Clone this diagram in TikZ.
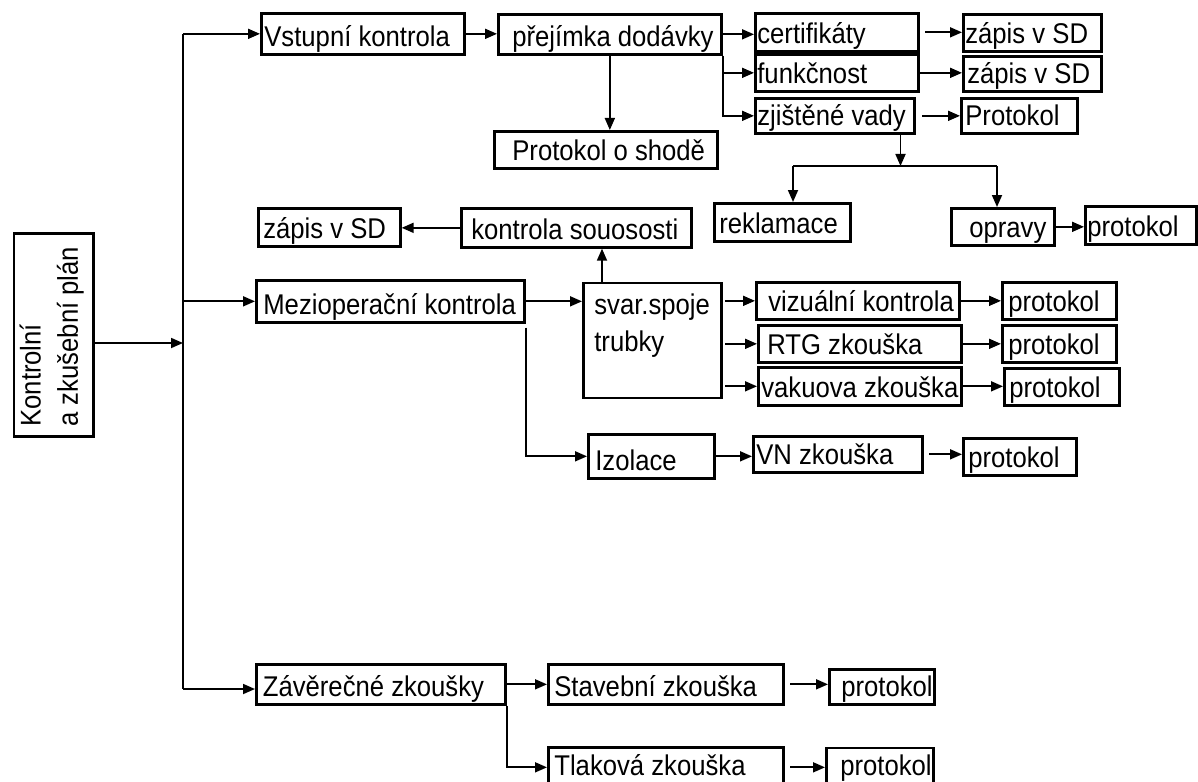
\documentclass[tikz,border=0pt]{standalone}
\usepackage{fontspec}
\setmainfont{Liberation Sans}[FakeStretch=0.9]
\usetikzlibrary{arrows.meta}
\usetikzlibrary{calc}
\newdimen\upx \upx=0.75pt
\tikzset{
  blok/.style={draw, line width=2pt, inner sep=0pt, anchor=north west, text depth=7.5\upx, text height=#1\upx},
  spoj/.style={line width=1.3pt},
  sipka/.style={spoj, -{Triangle[length=9pt,width=7.5pt]}},
}
\begin{document}
\begin{tikzpicture}[x=0.75pt,y=0.75pt,yscale=-1,xscale=1, font=\fontsize{21.4}{28}\selectfont]
\useasboundingbox (0,0) rectangle (1198,781);

% Plan
\node[blok=26.6, text depth=52.7\upx, rotate=90] (plan) at (12.7,438) {\parbox[t]{203\upx}{\hspace*{10\upx}Kontrolní\\\hspace*{10\upx}a zkušební plán}};

% Vstupni kontrola
\node[blok=33.5] (vstup) at (260,12) {\makebox[203\upx][l]{\hspace*{3\upx}Vstupní kontrola}};
\node[blok=32.5] (prejimka) at (497,13) {\makebox[223\upx][l]{\hspace*{14\upx}přejímka dodávky}};
\node[blok=29.5] (shoda) at (493,130) {\makebox[223\upx][l]{\hspace*{18\upx}Protokol o shodě}};
\node[blok=30.5] (cert) at (754,12) {\makebox[163\upx][l]{\hspace*{2\upx}certifikáty}};
\node[blok=29.5] (zapisA) at (962,13) {\makebox[138\upx][l]{\hspace*{2\upx}zápis v SD}};
\node[blok=29.5] (funk) at (754,53) {\makebox[163\upx][l]{\hspace*{2\upx}funkčnost}};
\node[blok=27.5] (zapisB) at (962,55) {\makebox[138\upx][l]{\hspace*{4\upx}zápis v SD}};
\node[blok=27.5] (vady) at (754,97) {\makebox[159\upx][l]{\hspace*{2\upx}zjištěné vady}};
\node[blok=27.5] (protA) at (960,97) {\makebox[116\upx][l]{\hspace*{4\upx}Protokol}};
\node[blok=30.5] (reklam) at (713,202) {\makebox[136\upx][l]{\hspace*{5\upx}reklamace}};
\node[blok=29.5] (opravy) at (950,207) {\makebox[103\upx][l]{\hspace*{18\upx}opravy}};
\node[blok=30.5] (protB) at (1084,205) {\makebox[111\upx][l]{\hspace*{2\upx}protokol}};

% Mezioperacni kontrola
\node[blok=30.5] (zapisC) at (257,207) {\makebox[142\upx][l]{\hspace*{5\upx}zápis v SD}};
\node[blok=31.5] (souos) at (460,207) {\makebox[230\upx][l]{\hspace*{10\upx}kontrola souososti}};
\node[blok=34.5] (mezi) at (255,279) {\makebox[268\upx][l]{\hspace*{7\upx}Mezioperační kontrola}};
\node[blok=31.3, text depth=83.7\upx] (svar) at (582,281.7) {\parbox[t]{138\upx}{\hspace*{11\upx}svar.spoje\\\hspace*{11\upx}trubky}};
\node[blok=29.5] (viz) at (755,281) {\makebox[203\upx][l]{\hspace*{12\upx}vizuální kontrola}};
\node[blok=29.5] (protC) at (1001,281) {\makebox[114\upx][l]{\hspace*{6\upx}protokol}};
\node[blok=29.5] (rtg) at (757,324) {\makebox[203\upx][l]{\hspace*{9\upx}RTG zkouška}};
\node[blok=29.5] (protD) at (1001,324) {\makebox[114\upx][l]{\hspace*{6\upx}protokol}};
\node[blok=30.5] (vak) at (757,366) {\makebox[203\upx][l]{\hspace*{3\upx}vakuova zkouška}};
\node[blok=29.5] (protE) at (1003,367) {\makebox[115\upx][l]{\hspace*{5\upx}protokol}};
\node[blok=36.5] (izol) at (587,433) {\makebox[126\upx][l]{\hspace*{7\upx}Izolace}};
\node[blok=28.5] (vn) at (752,435) {\makebox[169\upx][l]{\hspace*{3\upx}VN zkouška}};
\node[blok=29.5] (protF) at (962,437) {\makebox[113\upx][l]{\hspace*{5\upx}protokol}};

% Zaverecne zkousky
\node[blok=32.5] (zaver) at (255,663) {\makebox[249\upx][l]{\hspace*{6.5\upx}Závěrečné zkoušky}};
\node[blok=32.5] (stav) at (547,663) {\makebox[235\upx][l]{\hspace*{6\upx}Stavební zkouška}};
\node[blok=27.5] (protG) at (828,668) {\makebox[105\upx][l]{\hspace*{12\upx}protokol}};
\node[blok=28, text depth=12\upx] (tlak) at (547,746) {\makebox[235\upx][l]{\hspace*{6\upx}Tlaková zkouška}};
\node[blok=27.3, text depth=12\upx] (protH) at (825,746.7) {\makebox[107\upx][l]{\hspace*{14\upx}protokol}};

% kmen
\coordinate (kmen) at (183,343);
\coordinate (kmenD) at (183,689);
\draw[sipka] (plan.south |- kmen) -- (kmen);
\draw[spoj] (kmen |- vstup.west) -- (kmenD);
\draw[sipka] (kmen |- vstup.west) -- (vstup.west);
\draw[sipka] (kmen |- mezi.west) -- (mezi.west);
\draw[sipka] (kmenD) -- (kmenD -| zaver.west);

% vstupni vetev
\draw[sipka] (vstup.east) -- (prejimka.west |- vstup.east);
\draw[sipka] (prejimka.south) -- (prejimka.south |- shoda.north);
\draw[sipka] (prejimka.east) -- (cert.west |- prejimka.east);
\draw[sipka] (prejimka.south east) |- (vady.west);
\draw[sipka] (prejimka.south east |- funk.west) -- (funk.west);
\draw[sipka, shorten <=4pt] (cert.east) -- (zapisA.west |- cert.east);
\draw[sipka] (funk.east) -- (zapisB.west |- funk.east);
\draw[sipka, shorten <=5pt] (vady.east) -- (protA.west |- vady.east);
\coordinate (rozc) at (900.5,166);
\coordinate (rozcL) at (793,166);
\coordinate (rozcP) at (997,166);
\draw[sipka] (vady.south -| rozc) -- (rozc);
\draw[spoj] (rozcL) -- (rozcP);
\draw[sipka] (rozcL) -- (rozcL |- reklam.north);
\draw[sipka] (rozcP) -- (rozcP |- opravy.north);
\draw[sipka] (opravy.east) -- (protB.west |- opravy.east);

% mezioperacni vetev
\draw[sipka] (mezi.east) -- (svar.west |- mezi.east);
\coordinate (svarH) at ($(svar.north west)+(20,0)$);
\draw[sipka] (svarH) -- (svarH |- souos.south);
\draw[sipka] (souos.west) -- (zapisC.east |- souos.west);
\draw[sipka, shorten <=2pt] (svar.east |- viz.west) -- (viz.west);
\draw[sipka, shorten <=2pt] (svar.east |- rtg.west) -- (rtg.west);
\draw[sipka, shorten <=2pt] (svar.east |- vak.west) -- (vak.west);
\draw[sipka] (viz.east) -- (protC.west |- viz.east);
\draw[sipka] (rtg.east) -- (protD.west |- rtg.east);
\draw[sipka] (vak.east) -- (protE.west |- vak.east);
\draw[sipka, shorten <=3pt] (mezi.south east) |- (izol.west);
\draw[sipka] (izol.east) -- (vn.west |- izol.east);
\draw[sipka, shorten <=4pt] (vn.east) -- (protF.west |- vn.east);

% zaverecna vetev
\draw[sipka] (zaver.east) -- (stav.west);
\draw[sipka] (zaver.south east) |- (tlak.west);
\draw[sipka, shorten <=4pt] (stav.east) -- (protG.west |- stav.east);
\draw[sipka, shorten <=4pt] (tlak.east) -- (protH.west |- tlak.east);

\end{tikzpicture}
\end{document}
